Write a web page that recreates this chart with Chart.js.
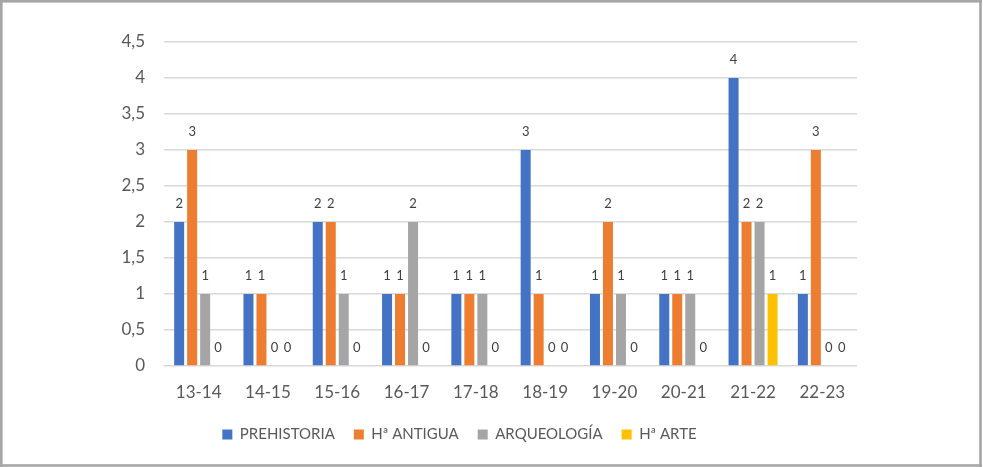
<!DOCTYPE html>
<html>
<head>
<meta charset="utf-8">
<script src="https://cdn.jsdelivr.net/npm/chart.js@4"></script>
<style>
html,body{margin:0;padding:0;background:#fff;}
#wrap{position:absolute;left:0;top:0;width:983px;height:467px;}
</style>
</head>
<body>
<div id="wrap"><canvas id="c" width="983" height="467"></canvas></div>
<script>
const categories = ["13-14","14-15","15-16","16-17","17-18","18-19","19-20","20-21","21-22","22-23"];
const prehistoria = [2,1,2,1,1,3,1,1,4,1];
const antigua     = [3,1,2,1,1,1,2,1,2,3];
const arqueologia = [1,0,1,2,1,0,1,1,2,0];
const arte        = [0,0,0,0,0,0,0,0,1,0];
const seriesNames = ["PREHISTORIA","Hª ANTIGUA","ARQUEOLOGÍA","Hª ARTE"];
const seriesColors = ["#4472C4","#ED7D31","#A5A5A5","#FFC000"];
const yTicks = [0,0.5,1,1.5,2,2.5,3,3.5,4,4.5];

const FONT = "Lato, 'Liberation Sans', sans-serif";
const TXT = "#595959";

const frame = {
  id: 'frame',
  afterDraw(chart){
    const ctx = chart.ctx;
    ctx.save();
    ctx.fillStyle = '#a6a6a6';
    ctx.fillRect(0,0,982,2.6);
    ctx.fillRect(0,464.2,982,2.6);
    ctx.fillRect(0,0,2.6,467);
    ctx.fillRect(979.2,0,2.6,467);
    ctx.restore();
  }
};
const dataLabels = {
  id: 'dataLabels',
  afterDatasetsDraw(chart){
    const ctx = chart.ctx;
    ctx.save();
    ctx.font = "13px " + FONT;
    ctx.fillStyle = "#404040";
    ctx.textAlign = 'center';
    ctx.textBaseline = 'middle';
    chart.data.datasets.forEach((ds, i) => {
      const meta = chart.getDatasetMeta(i);
      meta.data.forEach((bar, j) => {
        ctx.fillText(String(ds.data[j]), bar.x, bar.y - 18.5);
      });
    });
    ctx.restore();
  }
};

const datasets = [prehistoria, antigua, arqueologia, arte].map((d, i) => ({
  label: seriesNames[i],
  data: d,
  backgroundColor: seriesColors[i],
  borderWidth: 0,
  categoryPercentage: 0.75,
  barPercentage: 0.77
}));

new Chart(document.getElementById('c'), {
  type: 'bar',
  data: { labels: categories, datasets },
  options: {
    responsive: false,
    animation: false,
    devicePixelRatio: 1,
    layout: { padding: { top: 42, right: 126, bottom: 15, left: 62 } },
    plugins: {
      tooltip: { enabled: false },
      legend: {
        position: 'bottom',
        labels: {
          font: { family: FONT, size: 15 },
          color: TXT,
          boxWidth: 10,
          boxHeight: 10,
          padding: 19
        }
      }
    },
    scales: {
      x: {
        grid: { display: false, drawTicks: false },
        border: { display: false },
        ticks: { font: { family: FONT, size: 17 }, color: TXT, padding: 16, maxRotation: 0 },
        afterFit(s){ s.height = 42; }
      },
      y: {
        min: 0, max: 4.5,
        afterBuildTicks(s){ s.ticks = yTicks.map(v => ({ value: v })); },
        grid: { color: '#d9d9d9', lineWidth: 1.5, drawTicks: false },
        border: { display: false },
        ticks: {
          font: { family: FONT, size: 17 }, color: TXT, padding: 19,
          callback: v => String(v).replace('.', ',')
        },
        afterFit(s){ s.width = 102; }
      }
    }
  },
  plugins: [dataLabels, frame]
});
</script>
</body>
</html>
